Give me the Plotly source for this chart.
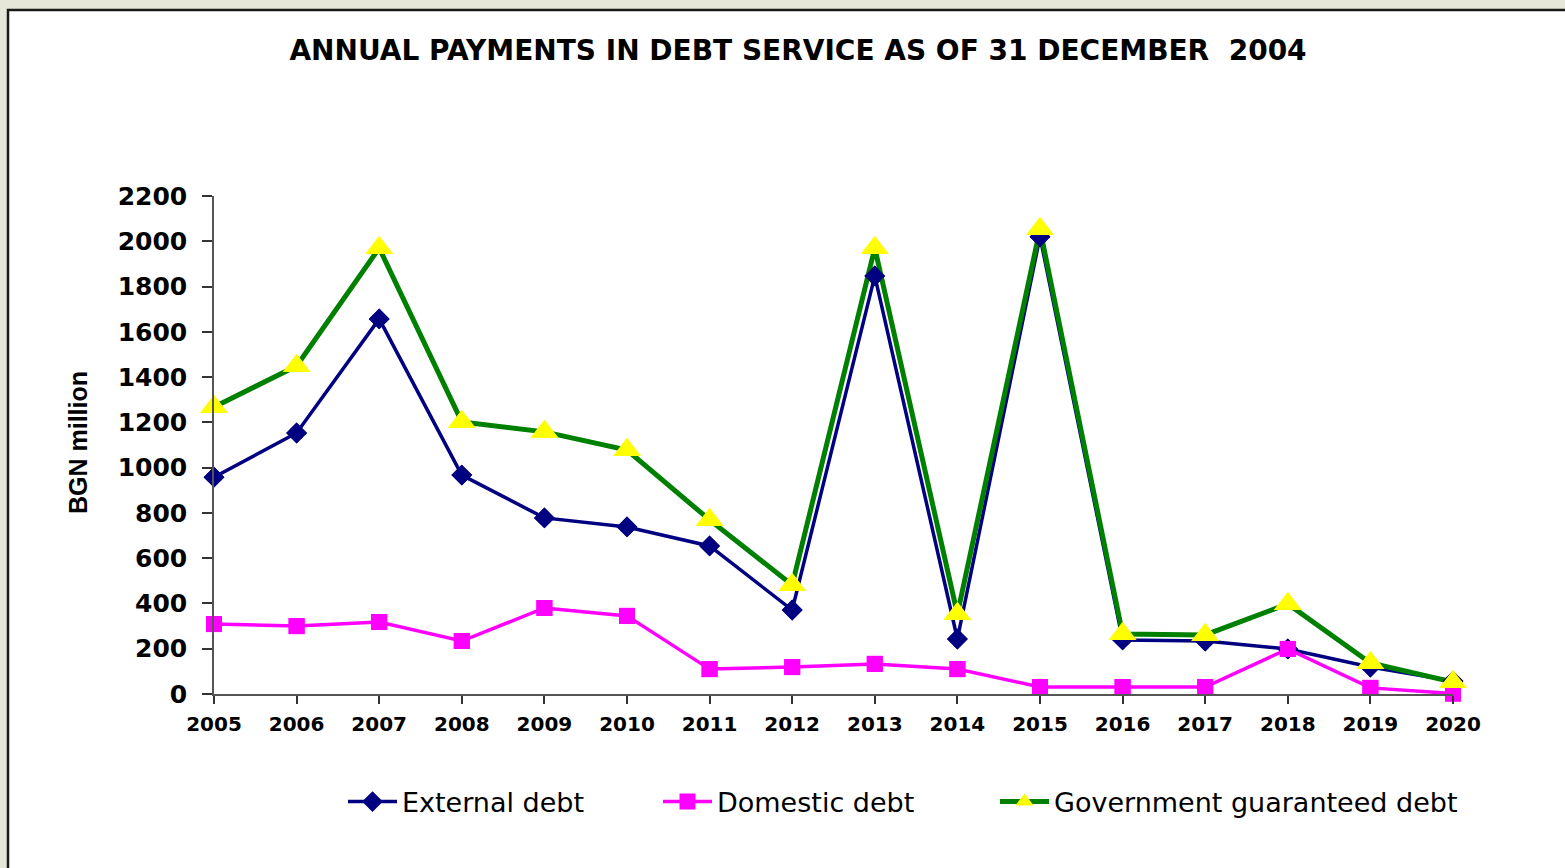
import plotly.graph_objects as go

years = list(range(2005, 2021))
external_debt = [958, 1153, 1657, 967, 778, 738, 654, 371, 1847, 243, 2020, 239, 234, 199, 119, 57]
domestic_debt = [309, 300, 318, 234, 380, 345, 110, 119, 133, 110, 31, 31, 31, 199, 27, 2]
guaranteed_debt = [1268, 1449, 1970, 1202, 1158, 1078, 769, 482, 1970, 353, 2054, 265, 261, 398, 137, 53]
y_ticks = list(range(0, 2201, 200))

title_text = "ANNUAL PAYMENTS IN DEBT SERVICE AS OF 31 DECEMBER  2004"

series = [
    dict(name="External debt", y=external_debt, color="#000080", width=3.5,
         symbol="diamond", msize=16, mcolor="#000080", legend="legend", lx=364),
    dict(name="Domestic debt", y=domestic_debt, color="#FF00FF", width=3.5,
         symbol="square", msize=16, mcolor="#FF00FF", legend="legend2", lx=679),
    dict(name="Government guaranteed debt", y=guaranteed_debt, color="#008000", width=5,
         symbol="triangle-up", msize=24, mcolor="#FFFF00", legend="legend3", lx=1016),
]

fig = go.Figure()
for s in series:
    fig.add_trace(go.Scatter(
        x=years, y=s["y"], name=s["name"], mode="lines+markers",
        line=dict(color=s["color"], width=s["width"]),
        marker=dict(symbol=s["symbol"], size=s["msize"], color=s["mcolor"],
                    line=dict(width=0)),
        cliponaxis=False, legend=s["legend"],
    ))
# markers drawn on top of all lines
for s in series:
    fig.add_trace(go.Scatter(
        x=years, y=s["y"], mode="markers", showlegend=False, hoverinfo="skip",
        marker=dict(symbol=s["symbol"], size=s["msize"], color=s["mcolor"],
                    line=dict(width=0)),
        cliponaxis=False,
    ))

W, H = 1565, 868
L, R, T, B = 214, 1453, 196, 694
pw, ph = R - L, B - T

def px(x):
    return (x - L) / pw

def py(y):
    return (B - y) / ph

legend_font = dict(family="DejaVu Sans", size=27, color="black")
legends = {}
for s in series:
    legends[s["legend"]] = dict(
        orientation="h", x=px(s["lx"] - 21), xanchor="left", y=py(802), yanchor="middle",
        font=legend_font, bgcolor="rgba(0,0,0,0)", itemwidth=49,
    )

fig.update_layout(
    width=W, height=H,
    margin=dict(l=L, r=W - R, t=T, b=H - B, pad=0),
    paper_bgcolor="#E6E7D9",
    plot_bgcolor="rgba(0,0,0,0)",
    font=dict(family="DejaVu Sans", color="black"),
    title=dict(text=f"<b>{title_text}</b>", x=798 / W, xanchor="center",
               y=1 - 50 / H, yanchor="middle", yref="container",
               font=dict(family="DejaVu Sans", size=28, color="black")),
    xaxis=dict(
        range=[2005, 2020], tickmode="array", tickvals=years,
        ticktext=[f"<b>{y}</b>" for y in years],
        showline=True, linecolor="#555555", linewidth=1.5,
        ticks="outside", ticklen=8, tickcolor="#333333", tickwidth=1.5,
        showgrid=False, zeroline=False,
        tickfont=dict(family="DejaVu Sans", size=20, color="black"),
        ticklabelstandoff=3,
    ),
    yaxis=dict(
        range=[0, 2200], tickmode="array", tickvals=y_ticks,
        ticktext=[f"<b>{v}</b>" for v in y_ticks],
        showline=True, linecolor="#555555", linewidth=1.5,
        ticks="outside", ticklen=10, tickcolor="#333333", tickwidth=1.5,
        showgrid=False, zeroline=False,
        tickfont=dict(family="DejaVu Sans", size=25, color="black"),
        ticklabelstandoff=10,
    ),
    showlegend=True,
    **legends,
    shapes=[dict(type="rect", xref="paper", yref="paper", layer="below",
                 x0=px(8), x1=px(1600), y0=py(900), y1=py(10),
                 fillcolor="white", line=dict(color="#1a1a1a", width=2.5))],
    annotations=[dict(text="<b>BGN million</b>", textangle=-90, showarrow=False,
                      xref="paper", yref="paper", x=px(78), y=py(443),
                      xanchor="center", yanchor="middle",
                      font=dict(family="Liberation Sans", size=25, color="black"))],
)

fig.write_html("out.html", config={"displayModeBar": False},
               post_script="document.body.style.margin='0';")
